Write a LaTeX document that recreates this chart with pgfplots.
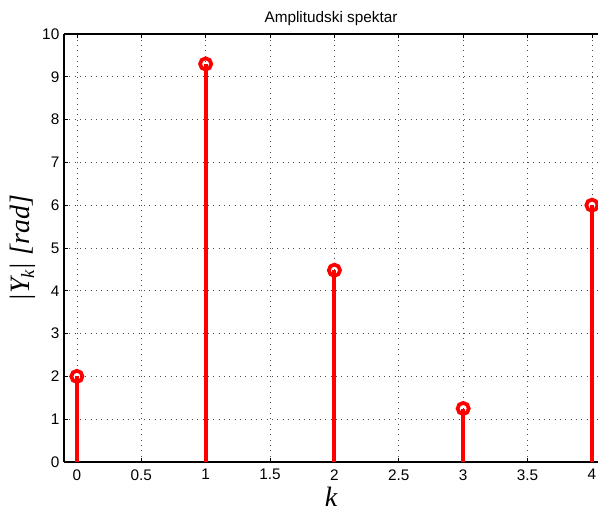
\documentclass[border=0pt]{standalone}
\usepackage{fontspec}
\setmainfont{Liberation Sans}
\newfontfamily\timesf{Liberation Serif}
\usepackage{pgfplots}
\pgfplotsset{compat=1.18}

\begin{document}
\begin{tikzpicture}[x=0.75pt,y=0.75pt]
\begin{axis}[
  name=ax,
  scale only axis,
  width=400.5pt,
  height=321pt,
  xmin=-0.1, xmax=4.047,
  ymin=0, ymax=10,
  axis y line*=left,
  axis x line*=box,
  xtick={0,0.5,...,4},
  ytick={0,1,...,10},
  xticklabels={0,0.5,1,1.5,2,2.5,3,3.5,4},
  tick align=inside,
  major tick length=3pt,
  tick style={black, line width=0.5pt},
  axis line style={black, line width=1.2pt},
  /pgf/number format/assume math mode=true,
  tick label style={font=\fontsize{11.5}{13}\selectfont},
  xticklabel style={yshift=-2pt},
  grid=major,
  grid style={black!70, line width=0.5pt, dash pattern=on 0.8pt off 3.2pt},
  title={Amplitudski spektar},
  title style={font=\fontsize{11.5}{13}\selectfont, yshift=-3pt},
  xlabel={\timesf\itshape k},
  ylabel={\timesf\itshape |Y\kern-0.5pt\raisebox{-0.35ex}{\fontsize{14}{15}\selectfont k}|~[rad]},
  label style={font=\fontsize{21}{24}\selectfont},
  xlabel style={inner sep=0pt, yshift=-1.5pt},
  ylabel style={yshift=-2pt},
  clip marker paths=true,
]
\addplot[ycomb, red, line width=3pt,
  mark=o, mark size=4.2pt, mark options={line width=2.8pt, red, fill=none}]
  coordinates {(0,2.00) (1,9.30) (2,4.48) (3,1.25) (4,6.00)};
\end{axis}
\pgfresetboundingbox
\path ([shift={(-48pt,-33pt)}]ax.south west) rectangle ([shift={(0pt,25.5pt)}]ax.north east);
\end{tikzpicture}
\end{document}
